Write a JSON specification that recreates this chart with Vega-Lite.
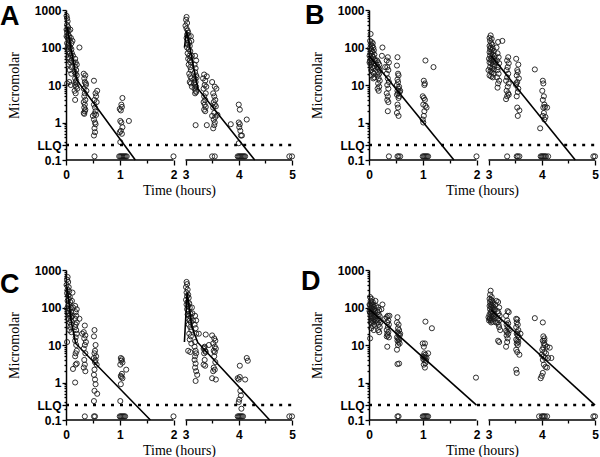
{
"$schema":"https://vega.github.io/schema/vega-lite/v6.json",
"padding":{"left":0,"top":2,"right":4,"bottom":2},
"background":"white",
"bounds":"flush",
"spacing":260,
"config":{
 "view":{"stroke":null},
 "axis":{"domainColor":"black","domainWidth":1.5,"tickColor":"black","tickWidth":1.3,"labelFont":"Liberation Sans","labelFontWeight":"bold","labelFontSize":12,"labelColor":"black","titleFont":"Liberation Serif","titleFontWeight":"normal","titleFontSize":14,"titleColor":"black","grid":false,"labelOverlap":false,"labelFlush":false,"tickCount":60},
 "axisX":{"domain":false,"format":"d","labelExpr":"datum.value % 1 == 0 ? datum.label : ''","tickSize":{"condition":{"test":"datum.value % 1 != 0","value":3},"value":5},"labelPadding":4,"titlePadding":3},
 "point":{"shape":"circle","filled":false,"size":26,"stroke":"#1a1a1a","strokeWidth":0.9,"opacity":1},
 "line":{"color":"black","strokeWidth":1.6},
 "title":{"anchor":"start","frame":"group","orient":"top","font":"Liberation Sans","fontSize":27,"fontWeight":"bold","color":"black","baseline":"alphabetic","offset":0}
},
"datasets":{
 "lines":[
  {"p":"A","s":1,"t":0.02,"c":350},{"p":"A","s":1,"t":0.2,"c":13.6},{"p":"A","s":1,"t":1.29,"c":0.1},
  {"p":"A","s":2,"t":2.98,"c":100},{"p":"A","s":2,"t":3.02,"c":280},{"p":"A","s":2,"t":3.23,"c":8.1},{"p":"A","s":2,"t":4.3,"c":0.1},
  {"p":"B","s":1,"t":0.0,"c":60},{"p":"B","s":1,"t":1.58,"c":0.1},
  {"p":"B","s":2,"t":3.05,"c":60},{"p":"B","s":2,"t":4.63,"c":0.1},
  {"p":"C","s":1,"t":0.02,"c":350},{"p":"C","s":1,"t":0.1,"c":40},{"p":"C","s":1,"t":0.18,"c":11},{"p":"C","s":1,"t":1.57,"c":0.1},
  {"p":"C","s":2,"t":2.98,"c":12},{"p":"C","s":2,"t":3.03,"c":250},{"p":"C","s":2,"t":3.12,"c":30},{"p":"C","s":2,"t":3.23,"c":11.7},{"p":"C","s":2,"t":4.58,"c":0.1},
  {"p":"D","s":1,"t":0.0,"c":90},{"p":"D","s":1,"t":2.0,"c":0.25},
  {"p":"D","s":2,"t":3.05,"c":85},{"p":"D","s":2,"t":5.0,"c":0.25}
 ],
 "A":[
  {"t":0.01,"c":700},{"t":0.02,"c":600},{"t":0.03,"c":500},{"t":0.02,"c":400},{"t":0.04,"c":350},{"t":0.01,"c":300},{"t":0.03,"c":300},{"t":0.05,"c":280},{"t":0.02,"c":250},{"t":0.04,"c":220},{"t":0.01,"c":200},{"t":0.06,"c":200},{"t":0.03,"c":180},{"t":0.05,"c":160},{"t":0.07,"c":150},{"t":0.02,"c":130},{"t":0.04,"c":120},{"t":0.06,"c":110},{"t":0.03,"c":100},{"t":0.08,"c":100},{"t":0.03,"c":90},{"t":0.05,"c":80},{"t":0.07,"c":70},{"t":0.09,"c":60},{"t":0.04,"c":55},{"t":0.06,"c":50},{"t":0.1,"c":45},{"t":0.08,"c":40},{"t":0.05,"c":35},{"t":0.1,"c":30},{"t":0.07,"c":25},{"t":0.1,"c":20},{"t":0.06,"c":12},{"t":0.02,"c":11},{"t":0.09,"c":10},{"t":0.08,"c":300},{"t":0.09,"c":180},{"t":0.1,"c":130},{"t":0.1,"c":90},{"t":0.12,"c":150},{"t":0.11,"c":70},{"t":0.25,"c":100},{"t":0.13,"c":60},{"t":0.14,"c":40},
  {"t":0.17,"c":50},{"t":0.18,"c":40},{"t":0.2,"c":35},{"t":0.17,"c":30},{"t":0.19,"c":25},{"t":0.18,"c":20},{"t":0.2,"c":18},{"t":0.17,"c":15},{"t":0.19,"c":13},{"t":0.18,"c":12},{"t":0.2,"c":11},{"t":0.17,"c":10},{"t":0.19,"c":9},{"t":0.16,"c":7},{"t":0.18,"c":6},{"t":0.17,"c":4},{"t":0.21,"c":8},{"t":0.16,"c":22},
  {"t":0.33,"c":20},{"t":0.36,"c":18},{"t":0.34,"c":15},{"t":0.35,"c":12},{"t":0.37,"c":10},{"t":0.33,"c":8},{"t":0.35,"c":6},{"t":0.34,"c":5},{"t":0.36,"c":4},{"t":0.33,"c":3.5},{"t":0.35,"c":3},{"t":0.34,"c":2.5},{"t":0.36,"c":2.2},{"t":0.35,"c":2},{"t":0.33,"c":1.8},{"t":0.34,"c":1.7},{"t":0.37,"c":11},{"t":0.38,"c":7},
  {"t":0.52,"c":13},{"t":0.55,"c":6},{"t":0.58,"c":7},{"t":0.56,"c":5},{"t":0.53,"c":4},{"t":0.52,"c":3},{"t":0.54,"c":2.5},{"t":0.55,"c":2},{"t":0.53,"c":1.7},{"t":0.56,"c":1.6},{"t":0.52,"c":1.2},{"t":0.54,"c":1},{"t":0.55,"c":0.9},{"t":0.53,"c":0.7},{"t":0.54,"c":0.55},{"t":0.52,"c":0.45},{"t":0.57,"c":3.5},{"t":0.5,"c":1.5},
  {"t":1.05,"c":4.5},{"t":1.03,"c":3},{"t":1.0,"c":2.3},{"t":1.02,"c":2.1},{"t":1.04,"c":2.6},{"t":1.01,"c":1.1},{"t":1.03,"c":1.0},{"t":1.05,"c":0.75},{"t":1.02,"c":0.6},{"t":1.0,"c":0.55},{"t":1.04,"c":0.5},{"t":1.01,"c":0.3},{"t":1.17,"c":1.1},
  {"t":0.53,"c":0.125},{"t":0.99,"c":0.125},{"t":1.01,"c":0.125},{"t":1.03,"c":0.125},{"t":1.05,"c":0.125},{"t":1.07,"c":0.125},{"t":1.09,"c":0.125},{"t":1.11,"c":0.125},{"t":1.13,"c":0.125},{"t":2.0,"c":0.125},
  {"t":3.02,"c":650},{"t":3.01,"c":550},{"t":3.03,"c":450},{"t":3.0,"c":380},{"t":3.02,"c":320},{"t":3.04,"c":280},{"t":3.05,"c":250},{"t":3.03,"c":220},{"t":3.06,"c":200},{"t":3.02,"c":180},{"t":3.04,"c":160},{"t":3.07,"c":140},{"t":3.05,"c":120},{"t":3.08,"c":110},{"t":3.03,"c":100},{"t":3.06,"c":90},{"t":3.09,"c":80},{"t":3.04,"c":70},{"t":3.07,"c":60},{"t":3.1,"c":55},{"t":3.05,"c":50},{"t":3.08,"c":45},{"t":3.1,"c":40},{"t":3.06,"c":35},{"t":3.09,"c":30},{"t":3.1,"c":25},{"t":3.07,"c":20},{"t":3.09,"c":17},{"t":3.11,"c":15},{"t":3.08,"c":12},{"t":3.1,"c":11},{"t":3.12,"c":9},{"t":3.11,"c":150},{"t":3.1,"c":200},{"t":3.12,"c":60},
  {"t":3.18,"c":60},{"t":3.2,"c":45},{"t":3.17,"c":35},{"t":3.19,"c":28},{"t":3.18,"c":22},{"t":3.2,"c":18},{"t":3.17,"c":15},{"t":3.19,"c":12},{"t":3.18,"c":10},{"t":3.2,"c":9},{"t":3.17,"c":8},{"t":3.19,"c":7},{"t":3.18,"c":6},{"t":3.2,"c":6.5},{"t":3.19,"c":0.85},{"t":3.21,"c":16},{"t":3.16,"c":11},
  {"t":3.35,"c":19},{"t":3.4,"c":17},{"t":3.33,"c":15},{"t":3.37,"c":13},{"t":3.36,"c":10},{"t":3.34,"c":8},{"t":3.38,"c":6},{"t":3.35,"c":5},{"t":3.37,"c":4},{"t":3.34,"c":3.5},{"t":3.36,"c":3},{"t":3.38,"c":2.6},{"t":3.35,"c":2.2},{"t":3.37,"c":2},{"t":3.4,"c":0.85},{"t":3.39,"c":9},
  {"t":3.5,"c":12},{"t":3.55,"c":9},{"t":3.58,"c":8},{"t":3.52,"c":6},{"t":3.54,"c":5},{"t":3.56,"c":4},{"t":3.53,"c":3.5},{"t":3.55,"c":3},{"t":3.57,"c":2.7},{"t":3.52,"c":2.5},{"t":3.54,"c":1.8},{"t":3.5,"c":1.5},{"t":3.56,"c":1.4},{"t":3.53,"c":1.2},{"t":3.55,"c":1.0},{"t":3.54,"c":0.85},{"t":3.52,"c":0.7},{"t":3.6,"c":1.6},
  {"t":3.85,"c":0.9},
  {"t":4.0,"c":3},{"t":4.02,"c":2.2},{"t":4.0,"c":1.0},{"t":4.02,"c":0.9},{"t":4.01,"c":0.75},{"t":4.03,"c":0.6},{"t":4.04,"c":0.45},{"t":4.06,"c":0.45},{"t":4.0,"c":0.28},{"t":4.15,"c":1.2},
  {"t":3.5,"c":0.125},{"t":3.55,"c":0.125},{"t":3.98,"c":0.125},{"t":4.0,"c":0.125},{"t":4.02,"c":0.125},{"t":4.04,"c":0.125},{"t":4.06,"c":0.125},{"t":4.08,"c":0.125},{"t":4.1,"c":0.125},{"t":4.12,"c":0.125},{"t":4.95,"c":0.125},{"t":5.0,"c":0.125}
 ],
 "B":[
  {"t":0.03,"c":230},{"t":0.02,"c":150},{"t":0.05,"c":140},{"t":0.07,"c":130},{"t":0.03,"c":120},{"t":0.06,"c":110},{"t":0.08,"c":100},{"t":0.02,"c":95},{"t":0.04,"c":90},{"t":0.09,"c":85},{"t":0.05,"c":80},{"t":0.07,"c":75},{"t":0.03,"c":70},{"t":0.1,"c":65},{"t":0.06,"c":60},{"t":0.08,"c":55},{"t":0.04,"c":50},{"t":0.1,"c":48},{"t":0.02,"c":45},{"t":0.07,"c":42},{"t":0.05,"c":40},{"t":0.09,"c":38},{"t":0.03,"c":35},{"t":0.1,"c":32},{"t":0.06,"c":30},{"t":0.08,"c":28},{"t":0.04,"c":25},{"t":0.07,"c":22},{"t":0.09,"c":20},{"t":0.05,"c":18},{"t":0.1,"c":16},{"t":0.08,"c":15},{"t":0.01,"c":60},{"t":0.01,"c":40},{"t":0.12,"c":45},{"t":0.13,"c":35},
  {"t":0.15,"c":45},{"t":0.17,"c":40},{"t":0.19,"c":35},{"t":0.16,"c":30},{"t":0.18,"c":28},{"t":0.2,"c":25},{"t":0.17,"c":22},{"t":0.19,"c":20},{"t":0.16,"c":18},{"t":0.18,"c":15},{"t":0.2,"c":13},{"t":0.17,"c":11},{"t":0.19,"c":9},{"t":0.16,"c":8},{"t":0.18,"c":7},{"t":0.25,"c":100},{"t":0.24,"c":60},
  {"t":0.35,"c":55},{"t":0.33,"c":45},{"t":0.37,"c":40},{"t":0.34,"c":30},{"t":0.36,"c":25},{"t":0.33,"c":20},{"t":0.35,"c":15},{"t":0.37,"c":12},{"t":0.34,"c":10},{"t":0.36,"c":8},{"t":0.33,"c":6},{"t":0.35,"c":5},{"t":0.34,"c":4},{"t":0.36,"c":3.5},{"t":0.35,"c":2},{"t":0.3,"c":30},
  {"t":0.53,"c":55},{"t":0.52,"c":33},{"t":0.54,"c":20},{"t":0.55,"c":18},{"t":0.53,"c":14},{"t":0.54,"c":12},{"t":0.52,"c":10},{"t":0.56,"c":9},{"t":0.55,"c":8},{"t":0.53,"c":7},{"t":0.57,"c":6.5},{"t":0.54,"c":6},{"t":0.52,"c":5.5},{"t":0.56,"c":5},{"t":0.55,"c":4.5},{"t":0.53,"c":3},{"t":0.54,"c":2.5},{"t":0.52,"c":1.8},{"t":0.55,"c":1.5},{"t":0.58,"c":7},
  {"t":1.05,"c":45},{"t":1.2,"c":30},{"t":1.02,"c":13},{"t":1.04,"c":11},{"t":1.03,"c":10},{"t":1.0,"c":5},{"t":1.02,"c":4.5},{"t":1.04,"c":4},{"t":1.01,"c":3},{"t":1.05,"c":2.8},{"t":1.07,"c":2.5},{"t":1.03,"c":2},{"t":1.02,"c":1.5},{"t":1.0,"c":1.2},{"t":1.01,"c":1.0},
  {"t":0.37,"c":0.125},{"t":0.53,"c":0.125},{"t":0.55,"c":0.125},{"t":0.58,"c":0.125},{"t":1.0,"c":0.125},{"t":1.02,"c":0.125},{"t":1.04,"c":0.125},{"t":1.06,"c":0.125},{"t":1.08,"c":0.125},{"t":1.1,"c":0.125},{"t":2.0,"c":0.125},
  {"t":3.04,"c":210},{"t":3.02,"c":180},{"t":3.06,"c":170},{"t":3.03,"c":150},{"t":3.05,"c":130},{"t":3.07,"c":120},{"t":3.02,"c":110},{"t":3.04,"c":100},{"t":3.08,"c":95},{"t":3.03,"c":90},{"t":3.06,"c":85},{"t":3.1,"c":80},{"t":3.02,"c":75},{"t":3.05,"c":70},{"t":3.08,"c":65},{"t":3.03,"c":60},{"t":3.07,"c":55},{"t":3.1,"c":50},{"t":3.04,"c":48},{"t":3.06,"c":45},{"t":3.09,"c":42},{"t":3.02,"c":40},{"t":3.05,"c":38},{"t":3.08,"c":35},{"t":3.11,"c":32},{"t":3.03,"c":30},{"t":3.07,"c":28},{"t":3.1,"c":26},{"t":3.04,"c":24},{"t":3.06,"c":22},{"t":3.09,"c":20},{"t":3.02,"c":18},{"t":3.05,"c":17},{"t":3.08,"c":16},{"t":3.12,"c":60},{"t":3.13,"c":40},{"t":3.0,"c":25},{"t":3.01,"c":50},
  {"t":3.18,"c":140},{"t":3.15,"c":100},{"t":3.17,"c":70},{"t":3.19,"c":55},{"t":3.16,"c":45},{"t":3.2,"c":38},{"t":3.18,"c":30},{"t":3.17,"c":25},{"t":3.19,"c":20},{"t":3.16,"c":16},{"t":3.2,"c":13},{"t":3.18,"c":11},{"t":3.17,"c":8.5},{"t":3.26,"c":150},
  {"t":3.37,"c":55},{"t":3.35,"c":45},{"t":3.38,"c":38},{"t":3.36,"c":30},{"t":3.34,"c":25},{"t":3.37,"c":20},{"t":3.35,"c":16},{"t":3.33,"c":13},{"t":3.38,"c":11},{"t":3.36,"c":9},{"t":3.34,"c":7},{"t":3.37,"c":6},{"t":3.35,"c":5},{"t":3.33,"c":4.2},{"t":3.38,"c":5.5},
  {"t":3.52,"c":50},{"t":3.56,"c":35},{"t":3.54,"c":25},{"t":3.55,"c":22},{"t":3.53,"c":18},{"t":3.57,"c":15},{"t":3.54,"c":12},{"t":3.52,"c":10},{"t":3.56,"c":8},{"t":3.55,"c":6.5},{"t":3.53,"c":5},{"t":3.54,"c":2.5},{"t":3.55,"c":1.5},{"t":3.58,"c":2.1},{"t":3.52,"c":11},
  {"t":3.87,"c":26},
  {"t":4.02,"c":13},{"t":4.03,"c":11},{"t":4.01,"c":7},{"t":4.04,"c":5},{"t":4.02,"c":4},{"t":4.05,"c":3},{"t":4.06,"c":2.6},{"t":4.1,"c":2.5},{"t":4.03,"c":2.5},{"t":4.04,"c":1.8},{"t":4.02,"c":1.5},{"t":4.07,"c":1.4},{"t":4.05,"c":1.2},{"t":3.97,"c":0.7},
  {"t":3.35,"c":0.125},{"t":3.53,"c":0.125},{"t":3.55,"c":0.125},{"t":3.58,"c":0.125},{"t":3.98,"c":0.125},{"t":4.0,"c":0.125},{"t":4.02,"c":0.125},{"t":4.04,"c":0.125},{"t":4.06,"c":0.125},{"t":4.08,"c":0.125},{"t":4.12,"c":0.125},{"t":4.97,"c":0.125},{"t":5.0,"c":0.125}
 ],
 "C":[
  {"t":0.03,"c":650},{"t":0.02,"c":550},{"t":0.04,"c":480},{"t":0.01,"c":400},{"t":0.05,"c":350},{"t":0.03,"c":300},{"t":0.06,"c":270},{"t":0.02,"c":240},{"t":0.04,"c":210},{"t":0.07,"c":190},{"t":0.05,"c":170},{"t":0.03,"c":150},{"t":0.08,"c":140},{"t":0.06,"c":120},{"t":0.04,"c":110},{"t":0.09,"c":100},{"t":0.02,"c":95},{"t":0.07,"c":90},{"t":0.05,"c":80},{"t":0.1,"c":75},{"t":0.03,"c":70},{"t":0.08,"c":65},{"t":0.06,"c":60},{"t":0.1,"c":55},{"t":0.04,"c":50},{"t":0.09,"c":45},{"t":0.07,"c":40},{"t":0.1,"c":35},{"t":0.08,"c":30},{"t":0.06,"c":25},{"t":0.1,"c":22},{"t":0.02,"c":12},{"t":0.12,"c":250},{"t":0.11,"c":150},{"t":0.13,"c":100},{"t":0.12,"c":60},
  {"t":0.17,"c":110},{"t":0.2,"c":90},{"t":0.18,"c":75},{"t":0.19,"c":60},{"t":0.17,"c":50},{"t":0.2,"c":40},{"t":0.18,"c":35},{"t":0.17,"c":30},{"t":0.19,"c":25},{"t":0.2,"c":20},{"t":0.18,"c":16},{"t":0.17,"c":13},{"t":0.19,"c":10},{"t":0.18,"c":6},{"t":0.17,"c":5},{"t":0.2,"c":3.2},{"t":0.18,"c":3},{"t":0.17,"c":1.0},{"t":0.13,"c":2.3},{"t":0.25,"c":50},{"t":0.2,"c":7},
  {"t":0.35,"c":33},{"t":0.33,"c":22},{"t":0.36,"c":18},{"t":0.34,"c":15},{"t":0.37,"c":12},{"t":0.35,"c":10},{"t":0.33,"c":8},{"t":0.36,"c":6},{"t":0.34,"c":4},{"t":0.35,"c":3},{"t":0.33,"c":2.5},{"t":0.36,"c":2},{"t":0.3,"c":20},
  {"t":0.53,"c":25},{"t":0.52,"c":17},{"t":0.55,"c":10},{"t":0.54,"c":7},{"t":0.53,"c":6},{"t":0.56,"c":5},{"t":0.52,"c":4.5},{"t":0.55,"c":4},{"t":0.54,"c":3.5},{"t":0.57,"c":3},{"t":0.53,"c":2.2},{"t":0.52,"c":1.6},{"t":0.54,"c":1.2},{"t":0.55,"c":0.9},{"t":0.53,"c":0.6},{"t":0.52,"c":0.32},{"t":0.58,"c":0.5},
  {"t":1.02,"c":4.5},{"t":1.04,"c":4.2},{"t":1.03,"c":3.8},{"t":1.05,"c":3.4},{"t":1.01,"c":3},{"t":1.04,"c":1.7},{"t":1.02,"c":1.5},{"t":1.03,"c":1.4},{"t":1.05,"c":1.3},{"t":1.02,"c":0.9},{"t":1.12,"c":2.2},{"t":1.01,"c":0.32},
  {"t":0.35,"c":0.125},{"t":0.52,"c":0.125},{"t":0.54,"c":0.125},{"t":1.0,"c":0.125},{"t":1.02,"c":0.125},{"t":1.04,"c":0.125},{"t":1.06,"c":0.125},{"t":1.08,"c":0.125},{"t":1.1,"c":0.125},{"t":2.0,"c":0.125},
  {"t":3.02,"c":480},{"t":3.03,"c":420},{"t":3.01,"c":350},{"t":3.04,"c":300},{"t":3.02,"c":250},{"t":3.05,"c":220},{"t":3.03,"c":200},{"t":3.06,"c":180},{"t":3.01,"c":160},{"t":3.04,"c":140},{"t":3.07,"c":130},{"t":3.02,"c":120},{"t":3.05,"c":110},{"t":3.08,"c":100},{"t":3.03,"c":90},{"t":3.06,"c":80},{"t":3.09,"c":70},{"t":3.04,"c":65},{"t":3.07,"c":60},{"t":3.1,"c":55},{"t":3.05,"c":50},{"t":3.08,"c":45},{"t":3.1,"c":40},{"t":3.06,"c":35},{"t":3.09,"c":30},{"t":3.11,"c":25},{"t":3.07,"c":20},{"t":3.1,"c":17},{"t":3.08,"c":14},{"t":3.11,"c":11},{"t":3.05,"c":7},{"t":3.09,"c":6.5},{"t":3.12,"c":100},{"t":3.13,"c":70},{"t":3.14,"c":45},
  {"t":3.18,"c":60},{"t":3.2,"c":45},{"t":3.17,"c":35},{"t":3.19,"c":28},{"t":3.2,"c":20},{"t":3.18,"c":12},{"t":3.17,"c":9},{"t":3.19,"c":7},{"t":3.2,"c":6},{"t":3.18,"c":5},{"t":3.17,"c":4},{"t":3.19,"c":3.2},{"t":3.18,"c":2.5},{"t":3.2,"c":2},{"t":3.19,"c":1.1},{"t":3.22,"c":1.6},{"t":3.25,"c":20},
  {"t":3.38,"c":19},{"t":3.36,"c":9},{"t":3.34,"c":8},{"t":3.37,"c":7},{"t":3.35,"c":6},{"t":3.38,"c":6.5},{"t":3.36,"c":4},{"t":3.34,"c":3},{"t":3.37,"c":2.8},{"t":3.35,"c":8.5},
  {"t":3.5,"c":18},{"t":3.54,"c":15},{"t":3.56,"c":13},{"t":3.52,"c":11},{"t":3.55,"c":9},{"t":3.57,"c":8},{"t":3.53,"c":7},{"t":3.55,"c":6.5},{"t":3.54,"c":5},{"t":3.56,"c":3.5},{"t":3.53,"c":2.5},{"t":3.55,"c":2.2},{"t":3.52,"c":2},{"t":3.57,"c":1.2},{"t":3.5,"c":1.3},{"t":3.44,"c":10},
  {"t":4.02,"c":2.8},{"t":3.98,"c":1.3},{"t":4.0,"c":1.2},{"t":4.02,"c":1.4},{"t":4.03,"c":0.6},{"t":4.04,"c":0.45},{"t":4.01,"c":0.35},{"t":4.0,"c":0.3},{"t":4.15,"c":4.5},{"t":4.17,"c":3.8},{"t":4.12,"c":1.2},{"t":4.05,"c":0.2},
  {"t":3.98,"c":0.125},{"t":4.0,"c":0.125},{"t":4.02,"c":0.125},{"t":4.04,"c":0.125},{"t":4.06,"c":0.125},{"t":4.08,"c":0.125},{"t":4.95,"c":0.125},{"t":5.0,"c":0.125}
 ],
 "D":[
  {"t":0.02,"c":190},{"t":0.05,"c":170},{"t":0.03,"c":150},{"t":0.07,"c":140},{"t":0.04,"c":130},{"t":0.08,"c":120},{"t":0.02,"c":115},{"t":0.06,"c":110},{"t":0.09,"c":105},{"t":0.03,"c":100},{"t":0.05,"c":95},{"t":0.1,"c":90},{"t":0.07,"c":85},{"t":0.04,"c":80},{"t":0.08,"c":75},{"t":0.02,"c":72},{"t":0.06,"c":70},{"t":0.1,"c":65},{"t":0.03,"c":60},{"t":0.05,"c":58},{"t":0.09,"c":55},{"t":0.07,"c":52},{"t":0.04,"c":50},{"t":0.1,"c":48},{"t":0.06,"c":45},{"t":0.08,"c":42},{"t":0.03,"c":40},{"t":0.05,"c":38},{"t":0.1,"c":35},{"t":0.07,"c":32},{"t":0.04,"c":28},{"t":0.09,"c":25},{"t":0.02,"c":15},{"t":0.12,"c":150},{"t":0.13,"c":110},{"t":0.11,"c":80},{"t":0.14,"c":60},{"t":0.13,"c":45},{"t":0.01,"c":80},{"t":0.01,"c":120},
  {"t":0.17,"c":100},{"t":0.19,"c":85},{"t":0.16,"c":75},{"t":0.18,"c":65},{"t":0.2,"c":58},{"t":0.17,"c":50},{"t":0.19,"c":45},{"t":0.16,"c":40},{"t":0.18,"c":35},{"t":0.2,"c":30},{"t":0.17,"c":25},{"t":0.19,"c":22},{"t":0.25,"c":120},{"t":0.23,"c":90},{"t":0.21,"c":40},
  {"t":0.35,"c":60},{"t":0.33,"c":55},{"t":0.36,"c":45},{"t":0.34,"c":40},{"t":0.37,"c":35},{"t":0.35,"c":30},{"t":0.33,"c":25},{"t":0.36,"c":22},{"t":0.34,"c":20},{"t":0.35,"c":18},{"t":0.33,"c":17},{"t":0.37,"c":16},{"t":0.34,"c":9},{"t":0.3,"c":50},{"t":0.38,"c":60},
  {"t":0.53,"c":55},{"t":0.52,"c":40},{"t":0.55,"c":35},{"t":0.54,"c":28},{"t":0.56,"c":25},{"t":0.53,"c":22},{"t":0.55,"c":20},{"t":0.57,"c":18},{"t":0.52,"c":16},{"t":0.54,"c":15},{"t":0.56,"c":14},{"t":0.53,"c":13},{"t":0.55,"c":12},{"t":0.57,"c":11},{"t":0.52,"c":7.5},{"t":0.54,"c":10},{"t":0.53,"c":3.1},{"t":0.56,"c":3.2},{"t":0.58,"c":20},
  {"t":1.05,"c":42},{"t":1.17,"c":28},{"t":1.0,"c":11},{"t":1.04,"c":11},{"t":1.02,"c":9},{"t":1.03,"c":6},{"t":1.05,"c":5.5},{"t":1.0,"c":5},{"t":1.02,"c":4.8},{"t":1.04,"c":4.5},{"t":1.01,"c":4.2},{"t":1.03,"c":4},{"t":1.06,"c":3.8},{"t":1.05,"c":3.3},{"t":1.02,"c":3},{"t":1.04,"c":2.5},{"t":1.1,"c":6},{"t":1.07,"c":4.5},
  {"t":1.99,"c":1.35},
  {"t":0.53,"c":0.125},{"t":0.55,"c":0.125},{"t":1.0,"c":0.125},{"t":1.02,"c":0.125},{"t":1.04,"c":0.125},{"t":1.06,"c":0.125},{"t":1.08,"c":0.125},{"t":1.1,"c":0.125},
  {"t":3.04,"c":280},{"t":3.03,"c":220},{"t":3.06,"c":190},{"t":3.02,"c":170},{"t":3.05,"c":160},{"t":3.07,"c":150},{"t":3.03,"c":140},{"t":3.08,"c":130},{"t":3.04,"c":120},{"t":3.06,"c":115},{"t":3.02,"c":110},{"t":3.09,"c":105},{"t":3.05,"c":100},{"t":3.07,"c":95},{"t":3.03,"c":90},{"t":3.1,"c":85},{"t":3.06,"c":80},{"t":3.04,"c":75},{"t":3.08,"c":70},{"t":3.02,"c":65},{"t":3.05,"c":60},{"t":3.09,"c":58},{"t":3.07,"c":55},{"t":3.03,"c":52},{"t":3.1,"c":50},{"t":3.06,"c":48},{"t":3.04,"c":45},{"t":3.08,"c":42},{"t":3.05,"c":40},{"t":3.02,"c":50},{"t":3.11,"c":60},{"t":3.12,"c":90},{"t":3.13,"c":120},{"t":3.14,"c":40},{"t":3.15,"c":150},{"t":3.0,"c":55},{"t":3.01,"c":45},
  {"t":3.18,"c":140},{"t":3.2,"c":100},{"t":3.17,"c":80},{"t":3.19,"c":70},{"t":3.21,"c":60},{"t":3.18,"c":50},{"t":3.2,"c":45},{"t":3.17,"c":40},{"t":3.19,"c":35},{"t":3.2,"c":30},{"t":3.22,"c":25},{"t":3.18,"c":13},{"t":3.2,"c":12},
  {"t":3.36,"c":80},{"t":3.38,"c":75},{"t":3.33,"c":60},{"t":3.35,"c":45},{"t":3.37,"c":38},{"t":3.34,"c":35},{"t":3.36,"c":30},{"t":3.38,"c":27},{"t":3.33,"c":24},{"t":3.35,"c":22},{"t":3.37,"c":20},{"t":3.34,"c":18},{"t":3.36,"c":15},{"t":3.35,"c":12},{"t":3.33,"c":9},{"t":3.4,"c":25},
  {"t":3.52,"c":50},{"t":3.54,"c":48},{"t":3.53,"c":40},{"t":3.55,"c":35},{"t":3.52,"c":30},{"t":3.56,"c":25},{"t":3.54,"c":22},{"t":3.53,"c":20},{"t":3.55,"c":18},{"t":3.57,"c":16},{"t":3.52,"c":14},{"t":3.54,"c":13},{"t":3.56,"c":12},{"t":3.53,"c":11},{"t":3.55,"c":10},{"t":3.52,"c":7.5},{"t":3.54,"c":6.5},{"t":3.58,"c":5.5},{"t":3.52,"c":2.2},{"t":3.53,"c":1.8},{"t":3.6,"c":20},
  {"t":3.87,"c":52},
  {"t":4.02,"c":40},{"t":4.03,"c":17},{"t":4.05,"c":15},{"t":4.02,"c":13},{"t":4.04,"c":11},{"t":4.06,"c":10},{"t":4.1,"c":9},{"t":4.03,"c":8.5},{"t":4.01,"c":7.5},{"t":4.05,"c":6.5},{"t":4.08,"c":6},{"t":4.0,"c":5.5},{"t":4.03,"c":5},{"t":4.06,"c":4.5},{"t":4.02,"c":4},{"t":4.12,"c":4.5},{"t":4.04,"c":3},{"t":4.07,"c":2.6},{"t":4.02,"c":1.8},{"t":4.0,"c":1.5},{"t":3.98,"c":1.3},{"t":4.15,"c":8.5},{"t":4.18,"c":4.5},{"t":4.1,"c":2.5},{"t":4.05,"c":13},
  {"t":3.95,"c":0.125},{"t":4.0,"c":0.125},{"t":4.02,"c":0.125},{"t":4.04,"c":0.125},{"t":4.06,"c":0.125},{"t":4.1,"c":0.125},{"t":4.97,"c":0.125},{"t":5.0,"c":0.125}
 ]
},
"vconcat":[
 {"bounds":"flush","spacing":77,"hconcat":[
  {"width":226,"height":150,"title":{"text":"A","dx":-66,"dy":31},
   "resolve":{"scale":{"x":"independent"},"axis":{"x":"independent"}},
   "layer":[
    {"layer":[
     {"data":{"name":"A"},"transform":[{"filter":"datum.t < 2.5"}],"mark":"point",
      "encoding":{"x":{"field":"t","type":"quantitative","scale":{"domain":[0,2],"range":[0,107.5],"nice":false,"zero":false},"axis":{"orient":"bottom","title":"Time (hours)","titleX":113,"titleAlign":"center","values":[0,0.5,1,1.5,2]}},
       "y":{"field":"c","type":"quantitative","scale":{"type":"log","domain":[0.1,1000],"nice":false},"axis":{"title":"Micromolar","values":[0.1,0.2,0.25,0.3,0.4,0.5,0.6,0.7,0.8,0.9,1,2,3,4,5,6,7,8,9,10,20,30,40,50,60,70,80,90,100,200,300,400,500,600,700,800,900,1000],"format":"~g","labelExpr":"datum.value == 0.25 ? 'LLQ' : (indexof([0.1,1,10,100,1000], datum.value) >= 0 ? datum.label : '')","tickSize":{"condition":{"test":"indexof([0.1,0.25,1,10,100,1000], datum.value) < 0","value":2},"value":4},"labelPadding":1,"titlePadding":13}}}},
     {"data":{"name":"lines"},"transform":[{"filter":"datum.p == 'A' && datum.t < 2.5"}],"mark":"line","encoding":{"x":{"field":"t","type":"quantitative"},"y":{"field":"c","type":"quantitative"}}},
     {"data":{"values":[{}]},"mark":{"type":"rule","color":"black","strokeWidth":1.5},"encoding":{"x":{"datum":0,"type":"quantitative"},"x2":{"datum":2},"y":{"datum":0.1,"type":"quantitative"}}},
     {"data":{"values":[{}]},"mark":{"type":"rule","color":"black","strokeWidth":2.5,"strokeDash":[3,6]},"encoding":{"x":{"datum":0,"type":"quantitative"},"x2":{"datum":2.1},"y":{"datum":0.25,"type":"quantitative"}}}
    ]},
    {"layer":[
     {"data":{"name":"A"},"transform":[{"filter":"datum.t >= 2.5"}],"mark":"point",
      "encoding":{"x":{"field":"t","type":"quantitative","scale":{"domain":[3,5],"range":[119.5,226],"nice":false,"zero":false},"axis":{"orient":"bottom","title":null,"values":[3,3.5,4,4.5,5]}},
       "y":{"field":"c","type":"quantitative"}}},
     {"data":{"name":"lines"},"transform":[{"filter":"datum.p == 'A' && datum.t >= 2.5"}],"mark":"line","encoding":{"x":{"field":"t","type":"quantitative"},"y":{"field":"c","type":"quantitative"}}},
     {"data":{"values":[{}]},"mark":{"type":"rule","color":"black","strokeWidth":1.5},"encoding":{"x":{"datum":3,"type":"quantitative"},"x2":{"datum":5},"y":{"datum":0.1,"type":"quantitative"}}},
     {"data":{"values":[{}]},"mark":{"type":"rule","color":"black","strokeWidth":2.5,"strokeDash":[3,6]},"encoding":{"x":{"datum":2.9,"type":"quantitative"},"x2":{"datum":5},"y":{"datum":0.25,"type":"quantitative"}}}
    ]}
   ]},
  {"width":226,"height":150,"title":{"text":"B","dx":-64,"dy":30},
   "resolve":{"scale":{"x":"independent"},"axis":{"x":"independent"}},
   "layer":[
    {"layer":[
     {"data":{"name":"B"},"transform":[{"filter":"datum.t < 2.5"}],"mark":"point",
      "encoding":{"x":{"field":"t","type":"quantitative","scale":{"domain":[0,2],"range":[0,107.5],"nice":false,"zero":false},"axis":{"orient":"bottom","title":"Time (hours)","titleX":113,"titleAlign":"center","values":[0,0.5,1,1.5,2]}},
       "y":{"field":"c","type":"quantitative","scale":{"type":"log","domain":[0.1,1000],"nice":false},"axis":{"title":"Micromolar","values":[0.1,0.2,0.25,0.3,0.4,0.5,0.6,0.7,0.8,0.9,1,2,3,4,5,6,7,8,9,10,20,30,40,50,60,70,80,90,100,200,300,400,500,600,700,800,900,1000],"format":"~g","labelExpr":"datum.value == 0.25 ? 'LLQ' : (indexof([0.1,1,10,100,1000], datum.value) >= 0 ? datum.label : '')","tickSize":{"condition":{"test":"indexof([0.1,0.25,1,10,100,1000], datum.value) < 0","value":2},"value":4},"labelPadding":1,"titlePadding":13}}}},
     {"data":{"name":"lines"},"transform":[{"filter":"datum.p == 'B' && datum.t < 2.5"}],"mark":"line","encoding":{"x":{"field":"t","type":"quantitative"},"y":{"field":"c","type":"quantitative"}}},
     {"data":{"values":[{}]},"mark":{"type":"rule","color":"black","strokeWidth":1.5},"encoding":{"x":{"datum":0,"type":"quantitative"},"x2":{"datum":2},"y":{"datum":0.1,"type":"quantitative"}}},
     {"data":{"values":[{}]},"mark":{"type":"rule","color":"black","strokeWidth":2.5,"strokeDash":[3,6]},"encoding":{"x":{"datum":0,"type":"quantitative"},"x2":{"datum":2.1},"y":{"datum":0.25,"type":"quantitative"}}}
    ]},
    {"layer":[
     {"data":{"name":"B"},"transform":[{"filter":"datum.t >= 2.5"}],"mark":"point",
      "encoding":{"x":{"field":"t","type":"quantitative","scale":{"domain":[3,5],"range":[119.5,226],"nice":false,"zero":false},"axis":{"orient":"bottom","title":null,"values":[3,3.5,4,4.5,5]}},
       "y":{"field":"c","type":"quantitative"}}},
     {"data":{"name":"lines"},"transform":[{"filter":"datum.p == 'B' && datum.t >= 2.5"}],"mark":"line","encoding":{"x":{"field":"t","type":"quantitative"},"y":{"field":"c","type":"quantitative"}}},
     {"data":{"values":[{}]},"mark":{"type":"rule","color":"black","strokeWidth":1.5},"encoding":{"x":{"datum":3,"type":"quantitative"},"x2":{"datum":5},"y":{"datum":0.1,"type":"quantitative"}}},
     {"data":{"values":[{}]},"mark":{"type":"rule","color":"black","strokeWidth":2.5,"strokeDash":[3,6]},"encoding":{"x":{"datum":2.9,"type":"quantitative"},"x2":{"datum":5},"y":{"datum":0.25,"type":"quantitative"}}}
    ]}
   ]}
 ]},
 {"bounds":"flush","spacing":77,"hconcat":[
  {"width":226,"height":150,"title":{"text":"C","dx":-66,"dy":39},
   "resolve":{"scale":{"x":"independent"},"axis":{"x":"independent"}},
   "layer":[
    {"layer":[
     {"data":{"name":"C"},"transform":[{"filter":"datum.t < 2.5"}],"mark":"point",
      "encoding":{"x":{"field":"t","type":"quantitative","scale":{"domain":[0,2],"range":[0,107.5],"nice":false,"zero":false},"axis":{"orient":"bottom","title":"Time (hours)","titleX":113,"titleAlign":"center","values":[0,0.5,1,1.5,2]}},
       "y":{"field":"c","type":"quantitative","scale":{"type":"log","domain":[0.1,1000],"nice":false},"axis":{"title":"Micromolar","values":[0.1,0.2,0.25,0.3,0.4,0.5,0.6,0.7,0.8,0.9,1,2,3,4,5,6,7,8,9,10,20,30,40,50,60,70,80,90,100,200,300,400,500,600,700,800,900,1000],"format":"~g","labelExpr":"datum.value == 0.25 ? 'LLQ' : (indexof([0.1,1,10,100,1000], datum.value) >= 0 ? datum.label : '')","tickSize":{"condition":{"test":"indexof([0.1,0.25,1,10,100,1000], datum.value) < 0","value":2},"value":4},"labelPadding":1,"titlePadding":13}}}},
     {"data":{"name":"lines"},"transform":[{"filter":"datum.p == 'C' && datum.t < 2.5"}],"mark":"line","encoding":{"x":{"field":"t","type":"quantitative"},"y":{"field":"c","type":"quantitative"}}},
     {"data":{"values":[{}]},"mark":{"type":"rule","color":"black","strokeWidth":1.5},"encoding":{"x":{"datum":0,"type":"quantitative"},"x2":{"datum":2},"y":{"datum":0.1,"type":"quantitative"}}},
     {"data":{"values":[{}]},"mark":{"type":"rule","color":"black","strokeWidth":2.5,"strokeDash":[3,6]},"encoding":{"x":{"datum":0,"type":"quantitative"},"x2":{"datum":2.1},"y":{"datum":0.25,"type":"quantitative"}}}
    ]},
    {"layer":[
     {"data":{"name":"C"},"transform":[{"filter":"datum.t >= 2.5"}],"mark":"point",
      "encoding":{"x":{"field":"t","type":"quantitative","scale":{"domain":[3,5],"range":[119.5,226],"nice":false,"zero":false},"axis":{"orient":"bottom","title":null,"values":[3,3.5,4,4.5,5]}},
       "y":{"field":"c","type":"quantitative"}}},
     {"data":{"name":"lines"},"transform":[{"filter":"datum.p == 'C' && datum.t >= 2.5"}],"mark":"line","encoding":{"x":{"field":"t","type":"quantitative"},"y":{"field":"c","type":"quantitative"}}},
     {"data":{"values":[{}]},"mark":{"type":"rule","color":"black","strokeWidth":1.5},"encoding":{"x":{"datum":3,"type":"quantitative"},"x2":{"datum":5},"y":{"datum":0.1,"type":"quantitative"}}},
     {"data":{"values":[{}]},"mark":{"type":"rule","color":"black","strokeWidth":2.5,"strokeDash":[3,6]},"encoding":{"x":{"datum":2.9,"type":"quantitative"},"x2":{"datum":5},"y":{"datum":0.25,"type":"quantitative"}}}
    ]}
   ]},
  {"width":226,"height":150,"title":{"text":"D","dx":-68,"dy":36},
   "resolve":{"scale":{"x":"independent"},"axis":{"x":"independent"}},
   "layer":[
    {"layer":[
     {"data":{"name":"D"},"transform":[{"filter":"datum.t < 2.5"}],"mark":"point",
      "encoding":{"x":{"field":"t","type":"quantitative","scale":{"domain":[0,2],"range":[0,107.5],"nice":false,"zero":false},"axis":{"orient":"bottom","title":"Time (hours)","titleX":113,"titleAlign":"center","values":[0,0.5,1,1.5,2]}},
       "y":{"field":"c","type":"quantitative","scale":{"type":"log","domain":[0.1,1000],"nice":false},"axis":{"title":"Micromolar","values":[0.1,0.2,0.25,0.3,0.4,0.5,0.6,0.7,0.8,0.9,1,2,3,4,5,6,7,8,9,10,20,30,40,50,60,70,80,90,100,200,300,400,500,600,700,800,900,1000],"format":"~g","labelExpr":"datum.value == 0.25 ? 'LLQ' : (indexof([0.1,1,10,100,1000], datum.value) >= 0 ? datum.label : '')","tickSize":{"condition":{"test":"indexof([0.1,0.25,1,10,100,1000], datum.value) < 0","value":2},"value":4},"labelPadding":1,"titlePadding":13}}}},
     {"data":{"name":"lines"},"transform":[{"filter":"datum.p == 'D' && datum.t < 2.5"}],"mark":"line","encoding":{"x":{"field":"t","type":"quantitative"},"y":{"field":"c","type":"quantitative"}}},
     {"data":{"values":[{}]},"mark":{"type":"rule","color":"black","strokeWidth":1.5},"encoding":{"x":{"datum":0,"type":"quantitative"},"x2":{"datum":2},"y":{"datum":0.1,"type":"quantitative"}}},
     {"data":{"values":[{}]},"mark":{"type":"rule","color":"black","strokeWidth":2.5,"strokeDash":[3,6]},"encoding":{"x":{"datum":0,"type":"quantitative"},"x2":{"datum":2.1},"y":{"datum":0.25,"type":"quantitative"}}}
    ]},
    {"layer":[
     {"data":{"name":"D"},"transform":[{"filter":"datum.t >= 2.5"}],"mark":"point",
      "encoding":{"x":{"field":"t","type":"quantitative","scale":{"domain":[3,5],"range":[119.5,226],"nice":false,"zero":false},"axis":{"orient":"bottom","title":null,"values":[3,3.5,4,4.5,5]}},
       "y":{"field":"c","type":"quantitative"}}},
     {"data":{"name":"lines"},"transform":[{"filter":"datum.p == 'D' && datum.t >= 2.5"}],"mark":"line","encoding":{"x":{"field":"t","type":"quantitative"},"y":{"field":"c","type":"quantitative"}}},
     {"data":{"values":[{}]},"mark":{"type":"rule","color":"black","strokeWidth":1.5},"encoding":{"x":{"datum":3,"type":"quantitative"},"x2":{"datum":5},"y":{"datum":0.1,"type":"quantitative"}}},
     {"data":{"values":[{}]},"mark":{"type":"rule","color":"black","strokeWidth":2.5,"strokeDash":[3,6]},"encoding":{"x":{"datum":2.9,"type":"quantitative"},"x2":{"datum":5},"y":{"datum":0.25,"type":"quantitative"}}}
    ]}
   ]}
 ]}
]
}
